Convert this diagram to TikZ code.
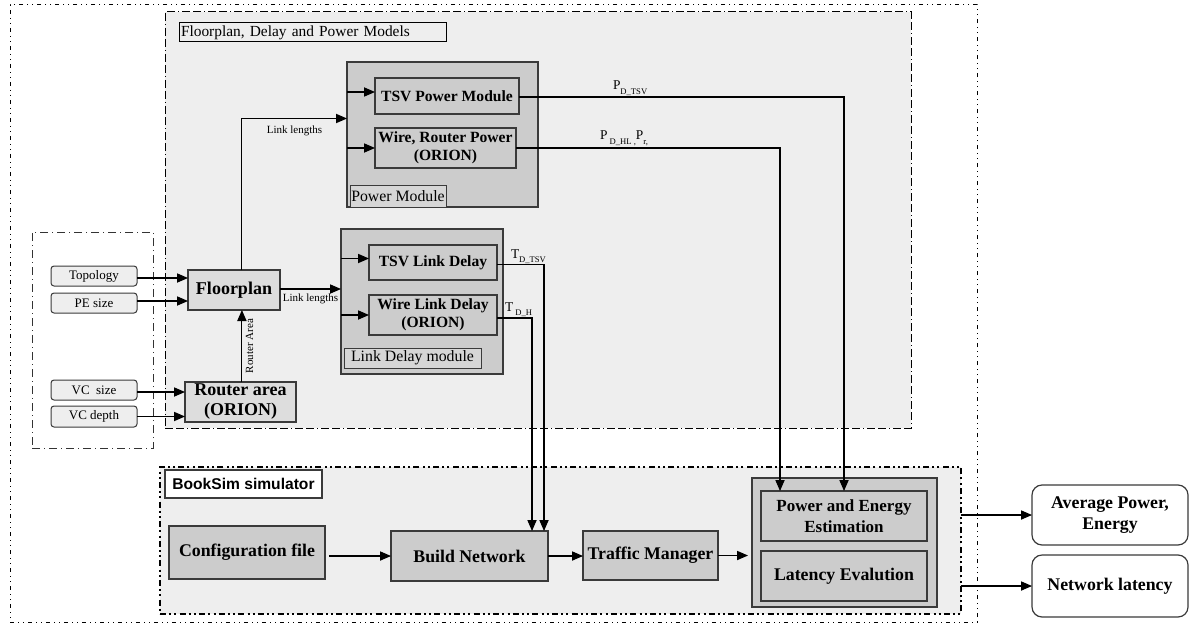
\documentclass[tikz,border=0pt]{standalone}
\usepackage{fontspec}
\setmainfont{Liberation Serif}
\setsansfont{Liberation Sans}
\usetikzlibrary{arrows.meta,calc}
\definecolor{gbg}{HTML}{EEEEEE}
\definecolor{gmod}{HTML}{CCCCCC}
\definecolor{glight}{HTML}{DDDDDD}
\definecolor{glab}{HTML}{D6D6D6}
\definecolor{gedge}{HTML}{3A3A3A}
\newcommand\lowsub[1]{\raisebox{-2.2pt}{\fontsize{4.3}{5}\selectfont #1}}
% \bx{style}{name}{x1}{y1}{x2}{y2}{text}
\newcommand\bx[7]{\node[#1,minimum width={(#5-#3)*0.5pt},minimum height={(#6-#4)*0.5pt}] (#2) at ({(#3+#5)/2},{(#4+#6)/2}) {#7};}
\begin{document}
\begin{tikzpicture}[x=0.5pt,y=-0.5pt,
  every node/.style={inner sep=0pt,outer sep=0pt},
  modbox/.style={draw=gedge,fill=gmod,line width=0.7pt},
  inbox/.style={draw=gedge,fill=gmod,line width=0.7pt,align=center,font=\fontsize{7.8}{9}\selectfont\bfseries},
  labbox/.style={draw=gedge,fill=glab,line width=0.5pt,font=\fontsize{7.9}{9}\selectfont},
  fpbox/.style={draw=gedge,fill=glight,line width=0.7pt,align=center,font=\fontsize{9}{10}\selectfont\bfseries},
  inpbox/.style={draw=gedge,fill=gbg,line width=0.5pt,rounded corners=1.5pt,font=\fontsize{6.5}{7.5}\selectfont},
  simbox/.style={draw=gedge,fill=gmod,line width=0.7pt,align=center,font=\fontsize{8.9}{10.5}\selectfont\bfseries},
  outbox/.style={draw=gedge,fill=white,line width=0.6pt,rounded corners=5pt,align=center,font=\fontsize{8.9}{10.5}\selectfont\bfseries},
  arr/.style={-{Triangle[length=5.5pt,width=4.6pt]},line width=0.55pt,draw=black},
  smalltxt/.style={font=\fontsize{5.5}{6.5}\selectfont},
  ptxt/.style={font=\fontsize{6.7}{7.5}\selectfont},
]
\useasboundingbox (0,0) rectangle (1203,626);

% outer frame
\bx{draw=black,line width=0.5pt,dash pattern=on 2pt off 2pt on 0.5pt off 2pt on 0.5pt off 2pt}{outer}{10}{5}{977}{622}{}

% Floorplan, delay and power models area
\bx{draw=black,fill=gbg,line width=0.5pt,dash pattern=on 4pt off 1.5pt on 4pt off 1.5pt on 0.5pt off 1.5pt}{fpm}{165}{12}{911}{428}{}
\node[draw=black,fill=gbg,line width=0.5pt,anchor=north west,text width=131.5pt,inner xsep=1pt,minimum height=9.5pt,align=left,font=\fontsize{7.7}{8.5}\selectfont] (fpmtitle) at (179,23) {Floorplan, Delay and Power Models};

% inputs area
\bx{draw=black!80,line width=0.5pt,dash pattern=on 4pt off 2pt on 0.5pt off 2pt}{inputs}{32}{232}{153}{448}{}
\bx{inpbox}{topo}{51}{266}{137}{286}{Topology}
\bx{inpbox}{pe}{51}{293}{137}{313}{PE size}
\bx{inpbox}{vcs}{51}{380}{137}{400}{VC\ \ size}
\bx{inpbox}{vcd}{51}{406}{137}{427}{VC depth}

\bx{fpbox}{fp}{188}{270}{280}{310}{Floorplan}
\bx{fpbox}{ra}{185}{382}{296}{422}{Router area\\(ORION)}

% power module
\bx{modbox}{pm}{347}{62}{538}{207}{}
\bx{inbox}{tsvp}{375}{78}{519}{114}{TSV Power Module}
\bx{inbox}{wrp}{375}{128}{516}{168}{Wire, Router Power\\(ORION)}
\bx{labbox}{pmlab}{350}{185}{446}{207}{Power Module}

% link delay module
\bx{modbox}{ld}{341}{229}{503}{374}{}
\bx{inbox}{tsvl}{369}{245}{497}{280}{TSV Link Delay}
\bx{inbox}{wld}{369}{295}{497}{335}{Wire Link Delay\\(ORION)}
\bx{labbox}{ldlab}{344}{348}{481}{368}{Link Delay module}

% BookSim
\bx{draw=black,fill=gbg,line width=1.3pt,dash pattern=on 3pt off 1.6pt on 1pt off 1.6pt on 1pt off 1.6pt}{bs}{160}{467}{961}{614}{}
\bx{draw=gedge,fill=white,line width=0.6pt,font=\sffamily\bfseries\fontsize{7.8}{9}\selectfont}{bslab}{165}{470}{322}{498}{BookSim simulator}
\bx{simbox}{cfg}{169}{526}{325}{579}{Configuration file}
\bx{simbox}{bn}{391}{531}{548}{581}{Build Network}
\bx{simbox}{tm}{583}{531}{718}{580}{Traffic Manager}
\bx{modbox}{est}{752}{478}{937}{607}{}
\bx{simbox,font=\fontsize{8.5}{10.5}\selectfont\bfseries}{pee}{761}{491}{927}{541}{Power and Energy\\Estimation}
\bx{simbox}{lat}{761}{551}{927}{601}{Latency Evalution}

\bx{outbox}{avg}{1032}{485}{1188}{545}{Average Power,\\Energy}
\bx{outbox}{nl}{1032}{555}{1188}{617}{Network latency}

% input arrows
\draw[arr] ([yshift=-1pt]topo.east) -- ([yshift=-1pt]topo.east -| fp.west);
\draw[arr] ([yshift=1pt]pe.east) -- ([yshift=1pt]pe.east -| fp.west);
\draw[arr] ([yshift=-1pt]vcs.east) -- ([yshift=-1pt]vcs.east -| ra.west);
\draw[arr] (vcd.east) -- (vcd.east -| ra.west);
\draw[arr] ([xshift=0.7pt]ra.north) -- ([xshift=0.7pt]ra.north |- fp.south)
  node[pos=0.5,anchor=north,rotate=90,yshift=-2pt,smalltxt] (ralab) {Router Area};

% floorplan outputs
\draw[arr] ([xshift=0.7pt]fp.north -| ra.north) |- ([yshift=8pt]pm.west)
  node[pos=0.75,below=3.5pt,smalltxt] (ll1) {Link lengths};
\draw[arr] ([yshift=0.5pt]fp.east) -- ([yshift=0.5pt]fp.east -| ld.west)
  node[midway,below=2.5pt,smalltxt] (ll2) {Link lengths};

% inside modules
\draw[arr] ([yshift=2pt]tsvp.west -| pm.west) -- ([yshift=2pt]tsvp.west);
\draw[arr] (wrp.west -| pm.west) -- (wrp.west);
\draw[arr] ([yshift=2pt]tsvl.west -| ld.west) -- ([yshift=2pt]tsvl.west);
\draw[arr] (wld.west -| ld.west) -- (wld.west);

% power outputs
\draw[arr] ([yshift=-0.5pt]tsvp.east) -| (pee.north);
\node[ptxt,anchor=base west] (pdtsv) at (613,90) {P\lowsub{D\_TSV}};
\draw[arr] (wrp.east) -| ([xshift=9.5pt]pee.north west);
\node[ptxt,anchor=base west] (pdhl) at (600,140) {P\,\lowsub{D\_HL ,}P\lowsub{r,}};

% delay outputs
\draw[arr] ([yshift=-1.2pt]tsvl.east) -| ([xshift=-2pt]bn.north east);
\node[ptxt,anchor=base west] (tdtsv) at (511,258) {T\lowsub{D\_TSV}};
\draw[arr] ([yshift=-1.5pt]wld.east) -| ([xshift=-8pt]bn.north east);
\node[ptxt,anchor=base west] (tdh) at (505,311) {T\,\lowsub{D\_H}};

% booksim flow
\draw[arr] ([xshift=2pt]cfg.east |- bn.west) -- (bn.west);
\draw[arr] (bn.east) -- (bn.east -| tm.west);
\draw[arr,shorten >=2pt] (tm.east) -- (tm.east -| est.west);
\draw[arr] (avg.west -| bs.east) -- (avg.west);
\draw[arr] (nl.west -| bs.east) -- (nl.west);
\end{tikzpicture}
\end{document}
